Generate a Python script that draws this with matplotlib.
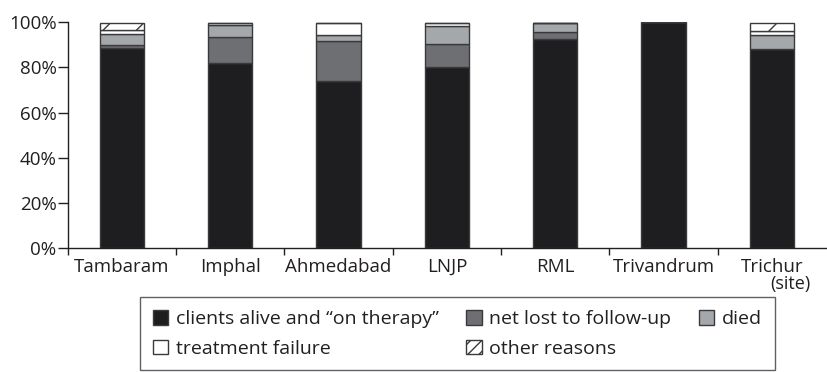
import matplotlib
matplotlib.use("Agg")
import matplotlib.pyplot as plt
import numpy as np

plt.rcParams['font.family'] = ['Open Sans', 'DejaVu Sans']
plt.rcParams['hatch.linewidth'] = 1.0

sites = ["Tambaram", "Imphal", "Ahmedabad", "LNJP", "RML", "Trivandrum", "Trichur"]
alive = [88.6, 82.0, 74.0, 80.0, 92.5, 100.0, 88.0]
lost = [1.3, 11.7, 17.8, 10.4, 3.1, 0.0, 0.0]
died = [5.0, 4.9, 2.7, 7.8, 4.3, 0.0, 6.3]
failure = [1.9, 1.3, 5.3, 1.5, 0.0, 0.0, 1.8]
other = [3.1, 0.0, 0.0, 0.0, 0.0, 0.0, 3.8]

series = [
    ("clients alive and \u201con therapy\u201d", alive, "#1e1e21", None),
    ("net lost to follow-up", lost, "#6e6f72", None),
    ("died", died, "#a5a8ab", None),
    ("treatment failure", failure, "#ffffff", None),
    ("other reasons", other, "#ffffff", "/"),
]

TXT = "#231f20"
FS = 13.5

fig = plt.figure(figsize=(8.28, 3.72), dpi=100)
W, H = 828, 372
ax = fig.add_axes([67.7 / W, 1 - 248 / H, (826 - 67.7) / W, (248 - 22.3) / H])

x = np.arange(len(sites)) + 0.5
bottom = np.zeros(len(sites))
handles = {}
for label, vals, color, hatch in series:
    vals = np.array(vals)
    b = ax.bar(x, vals, width=0.41, bottom=bottom, color=color, edgecolor="#3a3a3c",
               linewidth=1.0, hatch=hatch, label=label)
    handles[label] = b
    bottom = bottom + vals

ax.set_xlim(0, 7)
ax.set_ylim(0, 100)
ax.set_yticks([0, 20, 40, 60, 80, 100])
ax.set_yticklabels(["0%", "20%", "40%", "60%", "80%", "100%"])
ax.set_xticks(np.arange(0, 7))
ax.set_xticklabels([])
ax.set_xticks(x, minor=True)
ax.set_xticklabels(sites, minor=True)
ax.tick_params(axis="x", which="minor", length=0, pad=7, labelsize=FS, colors=TXT)
ax.tick_params(axis="x", which="major", length=5, width=1.0, direction="out", color=TXT)
ax.tick_params(axis="y", length=7, width=1.0, labelsize=FS, pad=1, colors=TXT)
for s in ["top", "right"]:
    ax.spines[s].set_visible(False)
for s in ["left", "bottom"]:
    ax.spines[s].set_linewidth(1.0)
    ax.spines[s].set_color(TXT)

fig.text(790 / W, 1 - 284 / H, "(site)", ha="center", va="center", fontsize=FS - 0.5, color=TXT)

order = [series[0][0], series[3][0], series[1][0], series[4][0], series[2][0]]
leg = fig.legend([handles[k] for k in order], order, ncol=3,
                 loc="upper left", bbox_to_anchor=(140 / W, 1 - 297 / H),
                 frameon=True, fancybox=False, edgecolor="#3a3a3c",
                 fontsize=14, handlelength=0.8, handleheight=0.8, handletextpad=0.4,
                 borderpad=0.65, labelspacing=0.6, borderaxespad=0, columnspacing=1.4)
leg.get_frame().set_linewidth(1.0)
for t in leg.get_texts():
    t.set_color(TXT)
for h in leg.legend_handles:
    if h.get_hatch() == "/":
        h.set_hatch("///")

fig.savefig("out.png", dpi=100)
